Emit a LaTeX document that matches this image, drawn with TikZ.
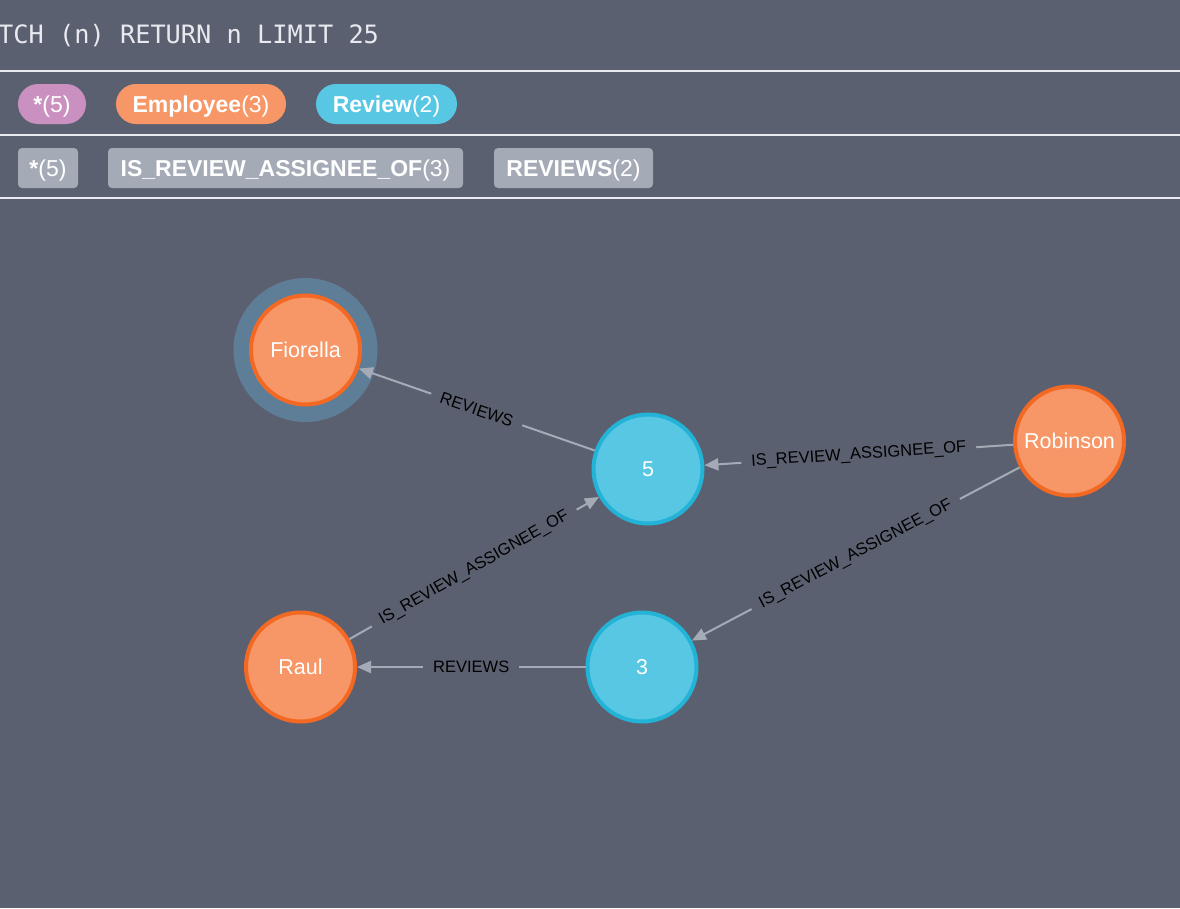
\documentclass[tikz,border=0pt]{standalone}
\usepackage{fontspec}
\setmainfont{Liberation Sans}
\newfontfamily\querymono{DejaVu Sans Mono}
\usetikzlibrary{arrows.meta}

\definecolor{canvas}{RGB}{91,96,112}
\definecolor{ruleline}{RGB}{232,234,240}
\definecolor{anypill}{RGB}{201,144,192}
\definecolor{employeefill}{RGB}{247,151,103}
\definecolor{employeeline}{RGB}{243,105,36}
\definecolor{reviewfill}{RGB}{87,199,227}
\definecolor{reviewline}{RGB}{35,179,215}
\definecolor{relgrey}{RGB}{165,171,182}
\definecolor{halo}{RGB}{94,126,152}

\tikzset{
  employee/.style={circle, draw=employeeline, fill=employeefill, line width=4pt,
    minimum size=109pt, inner sep=0pt, text=white, text depth=0pt, font=\fontsize{21.5}{26}\selectfont},
  review/.style={circle, draw=reviewline, fill=reviewfill, line width=4pt,
    minimum size=109pt, inner sep=0pt, text=white, text depth=0pt, font=\fontsize{21.5}{26}\selectfont},
  rel/.style={draw=relgrey, line width=2pt, -{Triangle[length=14pt,width=12pt]}},
  rellabel/.style={midway, sloped, fill=canvas, text=black, inner xsep=10pt, inner ysep=1pt,
    font=\fontsize{16.5}{20}\selectfont},
  nodepill/.style={rounded corners=20pt, minimum height=40pt, inner sep=0pt, text=white,
    text depth=0pt, font=\fontsize{23}{28}\selectfont},
  relpill/.style={fill=relgrey, rounded corners=4pt, minimum height=40pt, inner sep=0pt,
    text=white, text depth=0pt, font=\fontsize{23}{28}\selectfont}
}

\begin{document}
\begin{tikzpicture}[x=1pt,y=-1pt]
	\useasboundingbox (0,0) rectangle (1180,908);
	\fill[canvas] (0,0) rectangle (1180,908);

	% query line and rules
	\node[anchor=west, inner sep=0pt, text=ruleline, font=\querymono\fontsize{25.3}{30}\selectfont] (query) at (-2,36) {TCH (n) RETURN n LIMIT 25};
	\draw[ruleline, line width=2pt] (0,71) -- (1180,71);
	\draw[ruleline, line width=2pt] (0,135) -- (1180,135);
	\draw[ruleline, line width=2pt] (0,198) -- (1180,198);

	% label pills
	\node[nodepill, fill=anypill, minimum width=68pt] (allnodes) at (52,104) {\bfseries *\mdseries(5)};
	\node[nodepill, fill=employeefill, minimum width=170pt] (employees) at (201,104) {\bfseries Employee\mdseries(3)};
	\node[nodepill, fill=reviewfill, minimum width=141pt] (reviewcount) at (386.5,104) {\bfseries Review\mdseries(2)};

	% relationship pills
	\node[relpill, minimum width=60pt] (allrels) at (48,168) {\bfseries *\mdseries(5)};
	\node[relpill, minimum width=355pt] (assignees) at (285.5,168) {\bfseries IS\_REVIEW\_ASSIGNEE\_OF\mdseries(3)};
	\node[relpill, minimum width=159pt] (reviewrels) at (573.5,168) {\bfseries REVIEWS\mdseries(2)};

	% graph
	\coordinate (fiorellacentre) at (305.5,350);
	\fill[halo] (fiorellacentre) circle (72pt);
	\node[employee] (fiorella) at (fiorellacentre) {Fiorella};
	\node[review] (five) at (648,469) {5};
	\node[employee] (robinson) at (1069.5,441) {Robinson};
	\node[employee] (raul) at (300.5,667) {Raul};
	\node[review] (three) at (642,667) {3};

	\draw[rel] (five) -- (fiorella) node[rellabel] {REVIEWS};
	\draw[rel] (robinson) -- (five) node[rellabel] {IS\_REVIEW\_ASSIGNEE\_OF};
	\draw[rel] (robinson) -- (three) node[rellabel] {IS\_REVIEW\_ASSIGNEE\_OF};
	\draw[rel] (raul) -- (five) node[rellabel] {IS\_REVIEW\_ASSIGNEE\_OF};
	\draw[rel] (three) -- (raul) node[rellabel] {REVIEWS};
\end{tikzpicture}
\end{document}
